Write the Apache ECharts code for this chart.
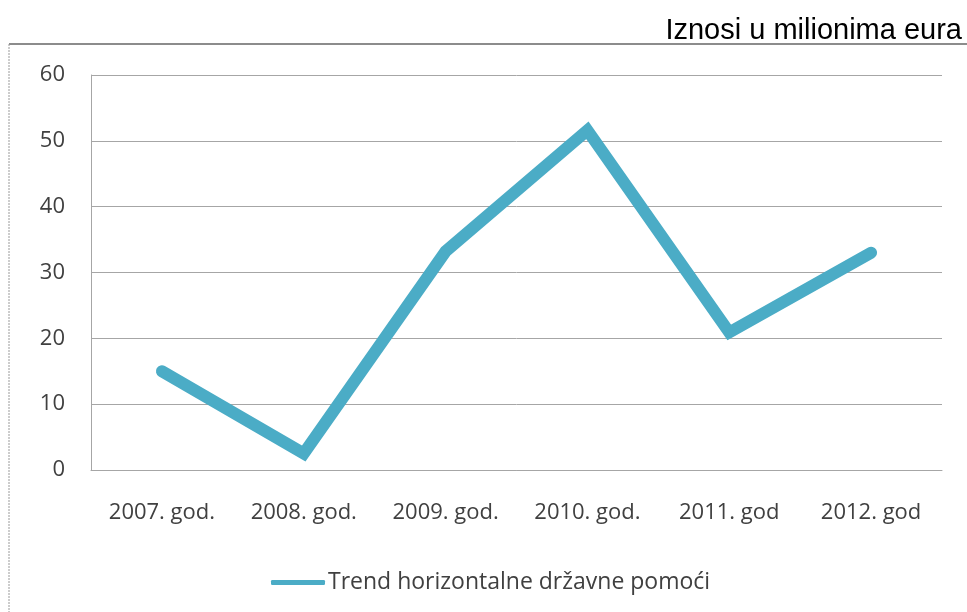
<!DOCTYPE html>
<html>
<head>
<meta charset="utf-8">
<script src="https://cdn.jsdelivr.net/npm/echarts@6/dist/echarts.min.js"></script>
<style>
  html, body { margin: 0; padding: 0; background: #fff; }
  #main { width: 967px; height: 612px; }
</style>
</head>
<body>
<div id="main"></div>
<script>
// kategorije (godine)
var categories = ['2007. god.', '2008. god.', '2009. god.', '2010. god.', '2011. god', '2012. god'];
// iznosi u milionima eura
var values = [15, 2.5, 33.2, 51.6, 20.9, 33];
var seriesName = 'Trend horizontalne državne pomoći';
// y os
var yMin = 0;
var yMax = 60;
var yStep = 10;

var labelColor = '#404040';
var gridColor = '#a6a6a6';

var myChart = echarts.init(document.getElementById('main'));
var option = {
    backgroundColor: '#fff',
    animation: false,
    title: {
        text: 'Iznosi u milionima eura',
        right: 0,
        top: 11,
        textStyle: {
            fontFamily: 'Liberation Sans',
            fontWeight: 'normal',
            fontSize: 29,
            color: '#000'
        }
    },
    // okvir grafikona
    graphic: [
        {
            type: 'line',
            shape: { x1: 9, y1: 44, x2: 967, y2: 44 },
            style: { stroke: '#8c8c8c', lineWidth: 2 }
        },
        {
            type: 'line',
            shape: { x1: 9, y1: 44, x2: 9, y2: 612 },
            style: { stroke: '#9a9a9a', lineWidth: 1, lineDash: [2, 1] }
        }
    ],
    legend: {
        data: [seriesName],
        left: 266,
        top: 566,
        icon: 'roundRect',
        itemWidth: 54,
        itemHeight: 5,
        itemGap: 4,
        textStyle: {
            fontFamily: 'Open Sans',
            fontSize: 23,
            color: labelColor,
            padding: [0, 0, 0, -2]
        }
    },
    grid: {
        left: 91,
        right: 25,
        top: 75,
        bottom: 142
    },
    xAxis: {
        type: 'category',
        data: categories,
        boundaryGap: true,
        axisLine: { show: true, lineStyle: { color: gridColor, width: 1 } },
        axisTick: { show: false },
        axisLabel: {
            margin: 32,
            fontFamily: 'Open Sans',
            fontSize: 22,
            color: labelColor
        }
    },
    yAxis: {
        type: 'value',
        min: yMin,
        max: yMax,
        interval: yStep,
        axisLine: { show: true, lineStyle: { color: gridColor, width: 1 } },
        axisTick: { show: false },
        splitLine: { lineStyle: { color: gridColor, width: 1 } },
        axisLabel: {
            margin: 26,
            fontFamily: 'Open Sans',
            fontSize: 22,
            color: labelColor
        }
    },
    series: [
        {
            name: seriesName,
            type: 'line',
            data: values,
            symbol: 'none',
            itemStyle: { color: '#4bacc6' },
            lineStyle: {
                color: '#4bacc6',
                width: 12,
                cap: 'round',
                join: 'miter'
            }
        }
    ]
};
myChart.setOption(option);
</script>
</body>
</html>
